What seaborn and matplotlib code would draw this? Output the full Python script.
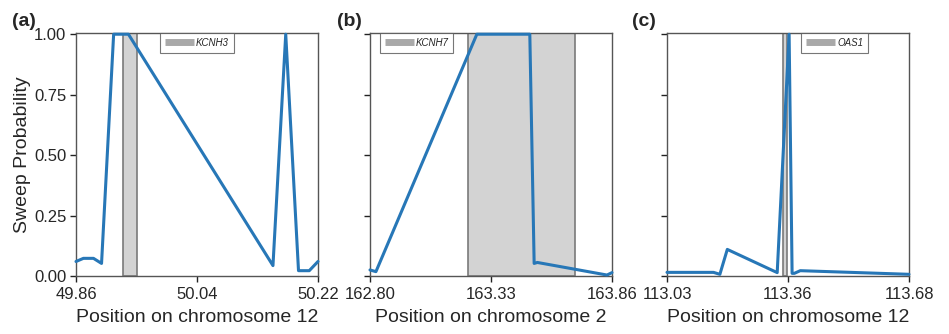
import numpy as np
import pandas as pd
import matplotlib
matplotlib.use("Agg")
import matplotlib.pyplot as plt
from matplotlib.lines import Line2D
import seaborn as sns

# ---- data ----
pos_a = [49.860, 49.871, 49.886, 49.898, 49.916, 49.938, 50.153, 50.172, 50.191, 50.207, 50.220]
prob_a = [0.06, 0.073, 0.073, 0.052, 1.0, 1.0, 0.043, 1.0, 0.022, 0.022, 0.06]
gene_a = "KCNH3"
gene_a_span = [49.930, 49.951]
xticks_a = [49.86, 50.04, 50.22]
xlabels_a = ["49.86", "50.04", "50.22"]
chrom_a = "Position on chromosome 12"

pos_b = [162.800, 162.826, 163.268, 163.500, 163.519, 163.533, 163.838, 163.860]
prob_b = [0.025, 0.018, 1.0, 1.0, 0.052, 0.056, 0.004, 0.014]
gene_b = "KCNH7"
gene_b_span = [163.228, 163.696]
xticks_b = [162.80, 163.33, 163.86]
xlabels_b = ["162.80", "163.33", "163.86"]
chrom_b = "Position on chromosome 2"

pos_c = [113.030, 113.155, 113.172, 113.192, 113.326, 113.358, 113.366, 113.372, 113.388, 113.680]
prob_c = [0.015, 0.015, 0.007, 0.11, 0.014, 1.0, 0.011, 0.011, 0.022, 0.007]
gene_c = "OAS1"
gene_c_span = [113.342, 113.351]
xticks_c = [113.03, 113.355, 113.68]
xlabels_c = ["113.03", "113.36", "113.68"]
chrom_c = "Position on chromosome 12"

yticks = [0.0, 0.25, 0.5, 0.75, 1.0]
ylabels = ["0.00", "0.25", "0.50", "0.75", "1.00"]
panel_labels = ["(a)", "(b)", "(c)"]

sns.set_theme(style="ticks")
plt.rcParams["font.family"] = ["Liberation Sans", "DejaVu Sans"]

fig = plt.figure(figsize=(9.49, 3.34), dpi=100)
lefts = [76 / 949, 370 / 949, 667 / 949]
bottom = (334 - 276) / 334
w = 242 / 949
h = 243 / 334
label_x = [12 / 949, 337 / 949, 632 / 949]

panels = [
    (pos_a, prob_a, gene_a, gene_a_span, xticks_a, xlabels_a, chrom_a, dict(loc="upper center", bbox_to_anchor=(0.5, 1.0))),
    (pos_b, prob_b, gene_b, gene_b_span, xticks_b, xlabels_b, chrom_b, dict(loc="upper left", bbox_to_anchor=(0.04, 1.0))),
    (pos_c, prob_c, gene_c, gene_c_span, xticks_c, xlabels_c, chrom_c, dict(loc="upper left", bbox_to_anchor=(0.555, 1.0))),
]

line_color = "#2777b7"
for i, (x, y, gene, span, xt, xl, chrom, legkw) in enumerate(panels):
    ax = fig.add_axes([lefts[i], bottom, w, h])
    ax.axvspan(span[0], span[1], facecolor="#d3d3d3", edgecolor="#7a7a7a", linewidth=1.2, zorder=1)
    df = pd.DataFrame({"pos": x, "prob": y})
    sns.lineplot(data=df, x="pos", y="prob", ax=ax, color=line_color, linewidth=2.2, zorder=3)
    for ln in ax.lines:
        ln.set_clip_on(False)
    ax.set_xlim(x[0], x[-1])
    ax.set_ylim(0, 1.005)
    ax.set_xticks(xt)
    ax.set_xticklabels(xl)
    ax.set_yticks(yticks)
    if i == 0:
        ax.set_yticklabels(ylabels)
        ax.set_ylabel("Sweep Probability", fontsize=14, labelpad=2)
    else:
        ax.set_yticklabels([])
        ax.set_ylabel("")
    ax.set_xlabel(chrom, fontsize=14, labelpad=5)
    ax.tick_params(axis="both", labelsize=12, length=4, width=1, color="#222222", direction="out", pad=4)
    ax.tick_params(axis="y", pad=3)
    for s in ax.spines.values():
        s.set_color("#555555")
        s.set_linewidth(1.0)
    handle = Line2D([0], [0], color="#a9a9a9", linewidth=5, solid_capstyle="butt")
    leg = ax.legend([handle], [gene], prop={"style": "italic", "size": 7}, frameon=True,
                    fancybox=False, borderaxespad=0.0, handlelength=3.0, handletextpad=0.2,
                    borderpad=0.5, **legkw)
    leg.get_frame().set_edgecolor("#555555")
    leg.get_frame().set_linewidth(0.8)
    leg.set_zorder(5)
    fig.text(label_x[i], 1 - 26 / 334, panel_labels[i],
             fontsize=14, fontweight="bold", ha="left", va="baseline")

fig.savefig("out.png", dpi=100)
